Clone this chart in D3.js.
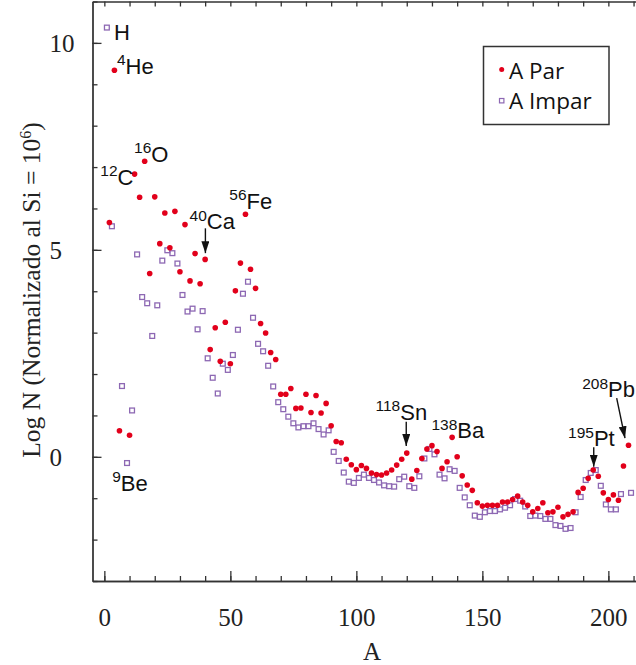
<!DOCTYPE html>
<html>
<head>
<meta charset="utf-8">
<script src="https://cdn.jsdelivr.net/npm/d3@7"></script>
<style>
  body { margin: 0; background: #fff; }
  svg { display: block; }
  .axis text { font-family: "Liberation Serif", "Times New Roman", serif; font-size: 25px; fill: #222; }
  .axis { color: #333; }
  .axis path, .axis line { stroke-width: 1.3; }
  .iso { font-family: "Liberation Sans", Arial, sans-serif; font-size: 22px; fill: #111; }
  .legend text { font-family: "Open Sans", "Noto Sans", sans-serif; font-size: 22.5px; fill: #111; }
</style>
</head>
<body>
<svg id="chart" width="636" height="665"></svg>
<script>
// mass numbers and log abundances
var evenA = [2, 4, 6, 10, 12, 14, 16, 18, 20, 22, 24, 26, 28, 30, 32, 34, 36, 38, 40,
  42, 44, 46, 48, 50, 52, 54, 56, 58, 60, 62, 64, 66, 68, 70, 72, 74, 76, 78, 80,
  82, 84, 86, 88, 90, 92, 94, 96, 98, 100, 102, 104, 106, 108, 110, 112, 114, 116, 118, 120,
  122, 124, 126, 128, 130, 132, 134, 136, 138, 140, 142, 144, 146, 148, 150, 152, 154, 156, 158, 160,
  162, 164, 166, 168, 170, 172, 174, 176, 178, 180, 182, 184, 186, 188, 190, 192, 194, 196, 198, 200,
  202, 204, 206, 208];
var evenLogN = [5.66, 9.34, 0.63, 0.52, 6.83, 6.27, 7.14, 4.43, 6.28, 5.15, 5.89, 5.05, 5.93, 4.47, 5.61, 4.25, 4.91, 4.18, 4.77,
  2.59, 3.12, 2.31, 3.25, 2.25, 4.01, 4.68, 5.86, 4.53, 4.07, 3.22, 2.99, 2.52, 2.35, 1.51, 1.51, 1.65, 1.17, 1.18, 1.51,
  1.07, 1.48, 1.06, 1.29, 0.75, 0.37, 0.34, -0.06, -0.19, -0.31, -0.21, -0.28, -0.39, -0.43, -0.44, -0.39, -0.32, -0.20, -0.06, 0.09,
  -0.54, -0.33, -0.04, 0.19, 0.27, 0.13, -0.28, -0.12, 0.47, 0.00, -0.46, -0.68, -0.81, -1.11, -1.19, -1.17, -1.17, -1.17, -1.09, -1.09,
  -1.03, -0.95, -1.09, -1.17, -1.33, -1.25, -1.11, -1.35, -1.33, -1.22, -1.45, -1.39, -1.33, -0.86, -0.76, -0.52, -0.32, -0.47, -0.87, -1.03,
  -0.92, -1.05, -0.22, 0.28];

var oddA = [1, 3, 7, 9, 11, 13, 15, 17, 19, 21, 23, 25, 27, 29, 31, 33, 35, 37, 39,
  41, 43, 45, 47, 49, 51, 53, 55, 57, 59, 61, 63, 65, 67, 69, 71, 73, 75, 77, 79,
  81, 83, 85, 87, 89, 91, 93, 95, 97, 99, 101, 103, 105, 107, 109, 111, 113, 115, 117, 119,
  121, 123, 125, 127, 129, 131, 133, 135, 137, 139, 141, 143, 145, 147, 149, 151, 153, 155, 157, 159,
  161, 163, 165, 167, 169, 171, 173, 175, 177, 179, 181, 183, 185, 187, 189, 191, 193, 195, 197, 199,
  201, 203, 205, 209];
var oddLogN = [10.37, 5.57, 1.71, -0.15, 1.12, 4.89, 3.86, 3.71, 2.92, 3.66, 4.74, 4.99, 4.92, 4.67, 3.91, 3.51, 3.58, 3.08, 3.52,
  2.38, 1.91, 1.53, 2.25, 2.10, 2.46, 3.07, 3.94, 4.23, 3.36, 2.73, 2.55, 2.20, 1.70, 1.32, 1.15, 0.97, 0.81, 0.71, 0.74,
  0.74, 0.81, 0.67, 0.54, 0.64, 0.12, -0.10, -0.38, -0.60, -0.63, -0.51, -0.43, -0.51, -0.56, -0.62, -0.69, -0.71, -0.72, -0.54, -0.48,
  -0.71, -0.75, -0.47, -0.04, 0.19, 0.06, -0.43, -0.52, -0.30, -0.34, -0.75, -0.98, -1.17, -1.42, -1.45, -1.34, -1.31, -1.31, -1.27, -1.23,
  -1.17, -1.02, -1.06, -1.20, -1.43, -1.42, -1.43, -1.50, -1.50, -1.65, -1.67, -1.74, -1.72, -1.34, -0.97, -0.56, -0.39, -0.32, -0.70, -1.15,
  -1.27, -1.27, -0.90, -0.87];

var xMajorTicks = [0, 50, 100, 150, 200];
var xMinorTicks = d3.range(0, 220, 10);
var yMajorTicks = [0, 5, 10];
var yMinorTicks = d3.range(-3, 12, 1);

// isotope labels: [superscript, symbol, A, logN] at the start of the text baseline
var isoLabels = [
  ['', 'H', 3.8, 10.27],
  ['4', 'He', 5.0, 9.26],
  ['16', 'O', 11.8, 7.13],
  ['12', 'C', -1.6, 6.57],
  ['56', 'Fe', 49.6, 5.99],
  ['40', 'Ca', 33.8, 5.50],
  ['9', 'Be', 3.1, -0.82],
  ['118', 'Sn', 107.6, 0.89],
  ['138', 'Ba', 129.8, 0.45],
  ['195', 'Pt', 184.0, 0.26],
  ['208', 'Pb', 189.6, 1.44]
];
// arrows: [A1, logN1, A2, logN2]
var arrows = [
  [40.1, 5.52, 40.1, 4.92],
  [119.8, 0.85, 119.8, 0.26],
  [194.2, 0.23, 194.2, -0.24],
  [203.3, 1.42, 206.6, 0.45]
];

var red = '#e2001b';
var purple = '#8d68b3';

var evenData = evenA.map(function (a, i) { return { A: a, logN: evenLogN[i] }; });
var oddData = oddA.map(function (a, i) { return { A: a, logN: oddLogN[i] }; });

var x = d3.scaleLinear().domain([-4.7, 217]).range([92.5, 651.2]);
var y = d3.scaleLinear().domain([-3, 11]).range([581, 1.5]);

var svg = d3.select('#chart');

// bottom axis, major + minor ticks pointing inwards
svg.append('g').attr('class', 'axis').attr('transform', 'translate(0,581)')
  .call(d3.axisBottom(x).tickValues(xMinorTicks).tickSizeInner(-5).tickSizeOuter(0).tickFormat(''));
svg.append('g').attr('class', 'axis').attr('transform', 'translate(0,581)')
  .call(d3.axisBottom(x).tickValues(xMajorTicks).tickSizeInner(-10).tickSizeOuter(0).tickPadding(27).tickFormat(d3.format('d')));

// top frame
svg.append('g').attr('class', 'axis').attr('transform', 'translate(0,1.5)')
  .call(d3.axisTop(x).tickValues(xMinorTicks).tickSizeInner(-5).tickSizeOuter(0).tickFormat(''));

// left axis
svg.append('g').attr('class', 'axis').attr('transform', 'translate(92.5,0)')
  .call(d3.axisLeft(y).tickValues(yMinorTicks).tickSizeInner(-5).tickSizeOuter(0).tickFormat(''));
var yAx = svg.append('g').attr('class', 'axis').attr('transform', 'translate(92.5,0)')
  .call(d3.axisLeft(y).tickValues(yMajorTicks).tickSizeInner(-9).tickSizeOuter(0).tickFormat(d3.format('d')));
yAx.selectAll('text').attr('text-anchor', 'start').attr('x', -43).attr('dy', '0.34em');

// axis titles
svg.append('text')
  .attr('x', 372).attr('y', 660)
  .attr('text-anchor', 'middle')
  .style('font-family', '"Liberation Serif", "Times New Roman", serif')
  .style('font-size', '25px').style('fill', '#222')
  .text('A');

var yTitle = svg.append('text')
  .attr('transform', 'translate(40,290) rotate(-90)')
  .attr('text-anchor', 'middle')
  .style('font-family', '"Liberation Serif", "Times New Roman", serif')
  .style('font-size', '25.5px').style('fill', '#222');
yTitle.append('tspan').text('Log N (Normalizado al Si = 10');
yTitle.append('tspan').attr('dy', -9).style('font-size', '16px').text('6');
yTitle.append('tspan').attr('dy', 9).text(')');

// points
svg.append('g').selectAll('rect').data(oddData).join('rect')
  .attr('x', function (d) { return x(d.A) - 2.4; })
  .attr('y', function (d) { return y(d.logN) - 2.4; })
  .attr('width', 4.8).attr('height', 4.8)
  .attr('fill', 'none').attr('stroke', purple).attr('stroke-width', 1.3);

svg.append('g').selectAll('circle').data(evenData).join('circle')
  .attr('cx', function (d) { return x(d.A); })
  .attr('cy', function (d) { return y(d.logN); })
  .attr('r', 2.8)
  .attr('fill', red);

// isotope labels
var lab = svg.append('g').selectAll('text').data(isoLabels).join('text')
  .attr('class', 'iso')
  .attr('x', function (d) { return x(d[2]); })
  .attr('y', function (d) { return y(d[3]); });
lab.append('tspan').attr('dy', -8.5).style('font-size', '15.5px').text(function (d) { return d[0]; });
lab.append('tspan').attr('dy', 8.5).text(function (d) { return d[1]; });

// arrows
svg.append('defs').append('marker')
  .attr('id', 'head').attr('viewBox', '0 0 12 8')
  .attr('refX', 12).attr('refY', 4)
  .attr('markerWidth', 12).attr('markerHeight', 8)
  .attr('markerUnits', 'userSpaceOnUse')
  .attr('orient', 'auto')
  .append('path').attr('d', 'M0,0L12,4L0,8Z').attr('fill', '#111');

svg.append('g').selectAll('line').data(arrows).join('line')
  .attr('x1', function (d) { return x(d[0]); })
  .attr('y1', function (d) { return y(d[1]); })
  .attr('x2', function (d) { return x(d[2]); })
  .attr('y2', function (d) { return y(d[3]); })
  .attr('stroke', '#111').attr('stroke-width', 1.4)
  .attr('marker-end', 'url(#head)');

// legend
var lg = svg.append('g').attr('class', 'legend');
lg.append('rect').attr('x', 483.5).attr('y', 46.5).attr('width', 125.5).attr('height', 78)
  .attr('fill', '#fff').attr('stroke', '#333').attr('stroke-width', 1.5);
lg.append('circle').attr('cx', 501.7).attr('cy', 69.5).attr('r', 2.5).attr('fill', red);
lg.append('text').attr('x', 509).attr('y', 79).text('A Par');
lg.append('rect').attr('x', 499.5).attr('y', 98.5).attr('width', 4.4).attr('height', 4.4)
  .attr('fill', 'none').attr('stroke', purple).attr('stroke-width', 1.2);
lg.append('text').attr('x', 509).attr('y', 109).text('A Impar');
</script>
</body>
</html>
